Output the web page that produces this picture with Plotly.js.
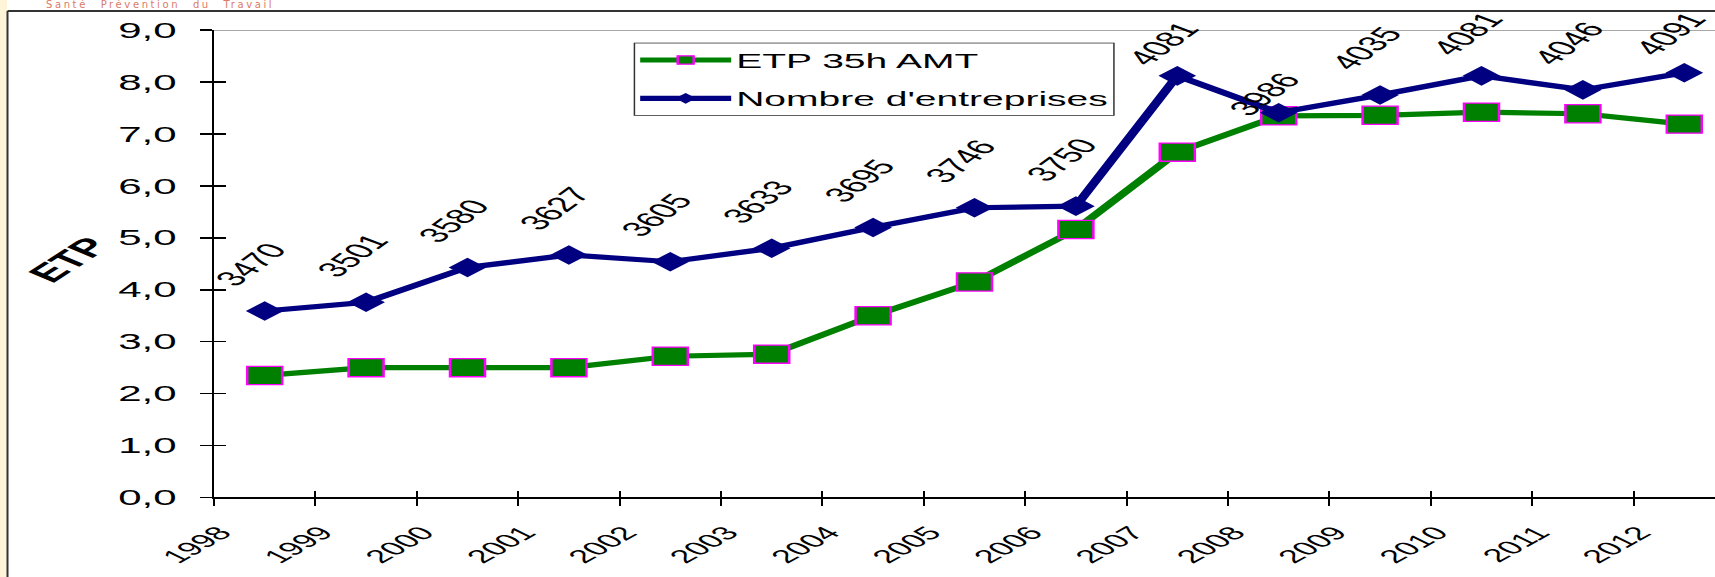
<!DOCTYPE html>
<html>
<head>
<meta charset="utf-8">
<script src="https://cdn.plot.ly/plotly-3.0.1.min.js"></script>
<style>
  html, body { margin:0; padding:0; width:1715px; height:577px; overflow:hidden; background:#ffffff; }
  #wrap { position:absolute; left:0; top:0; width:1715px; height:1110px; transform:scaleY(0.5198); transform-origin:0 0; }
  #hdr { position:absolute; left:46px; top:0px; font-family:"DejaVu Sans", sans-serif; font-size:10px; line-height:10px;
         color:#dc7a68; letter-spacing:2.6px; word-spacing:7px; white-space:nowrap; z-index:5; }
</style>
</head>
<body>
<div id="wrap"><div id="chart"></div></div>
<div id="hdr">Santé Prévention du Travail</div>
<script>
// ---- data ----
const years = [1998, 1999, 2000, 2001, 2002, 2003, 2004, 2005, 2006, 2007, 2008, 2009, 2010, 2011, 2012];
const tickLabels = ['1998','1999','2000','2001','2002','2003','2004','2005','2006','2007','2008','2009','2010','2011','2012'];
const etp35hAMT = [2.35, 2.50, 2.50, 2.50, 2.72, 2.76, 3.50, 4.15, 5.16, 6.65, 7.35, 7.36, 7.42, 7.39, 7.19];
const entreprisesPlot = [3.59, 3.76, 4.43, 4.67, 4.54, 4.80, 5.20, 5.58, 5.61, 8.12, 7.41, 7.75, 8.12, 7.85, 8.18];
const entreprisesLabels = ['3470','3501','3580','3627','3605','3633','3695','3746','3750','4081','3986','4035','4081','4046','4091'];
const seriesNames = ['ETP 35h AMT', "Nombre d'entreprises"];

// ---- layout geometry (plot space, later squashed vertically) ----
const W = 1715, H = 1110;
const M = {l:214, r:0, t:58, b:153};
const plotH = H - M.t - M.b;
const catW = 101.4;
const xr = [years[0] - 0.5, years[0] - 0.5 + (W - M.l - M.r) / catW];
const yr = [0, 9];
const S = 0.5198;
const FONT = 'Liberation Sans, Arial, sans-serif';

// label placement rule (Excel pushes labels down near the top edge)
const labelNudge = {2007: -19, 2008: -54};
function yPix(v) { return M.t + (1 - (v - yr[0]) / (yr[1] - yr[0])) * plotH; }

const labelAnnotations = years.map((yr_, i) => {
  const py = yPix(entreprisesPlot[i]);
  let shift = 89.5;
  const minCenter = 34 / S;
  if (py - shift < minCenter) shift = py - minCenter;
  shift += (labelNudge[yr_] || 0);
  return {
    x: yr_, y: entreprisesPlot[i], xref:'x', yref:'y',
    text: entreprisesLabels[i], showarrow:false, textangle:-54,
    xshift:-14, yshift: shift, xanchor:'center', yanchor:'middle',
    font:{family:FONT, size:40, color:'#000'}
  };
});

const traces = [
  {
    x: years, y: etp35hAMT, name: seriesNames[0], type:'scatter', mode:'lines+markers',
    legendgroup:'a',
    line:{color:'#008000', width:10},
    marker:{symbol:'square', size:35, color:'#008000', line:{color:'#ff00ff', width:2.5}},
    hoverinfo:'skip'
  },
  {
    x: years, y: entreprisesPlot, name: seriesNames[1], type:'scatter', mode:'lines+markers',
    legendgroup:'b',
    line:{color:'#000080', width:10},
    marker:{symbol:'diamond', size:29, color:'#000080', line:{width:0}},
    hoverinfo:'skip'
  },
  { x:[], y:[], xaxis:'x2', yaxis:'y2', showlegend:false, hoverinfo:'skip', type:'scatter', mode:'markers' }
];

const tickvals = years.map(y => y - 0.5);

const layout = {
  width: W, height: H,
  margin: {l:M.l, r:M.r, t:M.t, b:M.b, pad:0},
  paper_bgcolor:'#ffffff', plot_bgcolor:'#ffffff',
  separators:', ',
  font:{family:FONT, color:'#000'},
  showlegend:true,
  xaxis:{
    range:xr, tickmode:'array', tickvals:tickvals, ticktext:tickLabels, tickangle:-47,
    ticks:'outside', ticklen:13, tickwidth:2, tickcolor:'#000',
    ticklabelstandoff:16, ticklabelshift:6,
    showline:true, linecolor:'#000', linewidth:3.5, showgrid:false, zeroline:false,
    tickfont:{family:FONT, size:36, color:'#000'}, fixedrange:true
  },
  xaxis2:{
    overlaying:'x', anchor:'y2', range:xr, tickmode:'array', tickvals:tickvals,
    ticks:'inside', ticklen:13, tickwidth:2, tickcolor:'#000',
    showticklabels:false, showline:false, showgrid:false, zeroline:false
  },
  yaxis:{
    range:yr, tickmode:'linear', tick0:0, dtick:1, tickformat:'.1f',
    ticks:'outside', ticklen:12, tickwidth:3, tickcolor:'#000', ticklabelstandoff:15,
    showline:true, linecolor:'#000', linewidth:2, showgrid:false, zeroline:false,
    tickfont:{family:FONT, size:42, color:'#000'}, fixedrange:true
  },
  yaxis2:{
    overlaying:'y', anchor:'x2', side:'left', range:yr, tickmode:'linear', tick0:0, dtick:1,
    ticks:'inside', ticklen:12, tickwidth:3, tickcolor:'#000',
    showticklabels:false, showline:false, showgrid:false, zeroline:false
  },
  legend:{
    x:0.2796, y:0.9732, xanchor:'left', yanchor:'top',
    bgcolor:'#ffffff', bordercolor:'#333333', borderwidth:1.5,
    font:{family:FONT, size:39, color:'#000'},
    itemwidth:91, tracegroupgap:20, traceorder:'grouped'
  },
  shapes:[
    {type:'rect', xref:'paper', yref:'paper', x0:-0.2, x1:(7 - M.l) / (W - M.l - M.r), y0:-0.5, y1:1.2,
     fillcolor:'#fef5d8', line:{width:0}, layer:'below'},
    {type:'line', xref:'paper', yref:'paper', x0:(7.5 - M.l) / (W - M.l), x1:1.05,
     y0:(H - M.b - 11 / S) / plotH, y1:(H - M.b - 11 / S) / plotH, line:{color:'#333', width:3.5}},
    {type:'line', xref:'paper', yref:'paper', x0:(7.5 - M.l) / (W - M.l), x1:(7.5 - M.l) / (W - M.l),
     y0:-0.5, y1:(H - M.b - 11 / S) / plotH, line:{color:'#333', width:2}},
    {type:'line', xref:'paper', yref:'y', x0:0, x1:1, y0:9, y1:9, line:{color:'#8a8a8a', width:3}}
  ],
  annotations:[
    {xref:'paper', yref:'paper', x:(68 - M.l) / (W - M.l), y:(H - M.b - 260 / S) / plotH,
     text:'<b>ETP</b>', showarrow:false, textangle:-51, xanchor:'center', yanchor:'middle',
     font:{family:FONT, size:48, color:'#000'}}
  ].concat(labelAnnotations)
};

Plotly.newPlot('chart', traces, layout, {displayModeBar:false, staticPlot:true});
</script>
</body>
</html>
